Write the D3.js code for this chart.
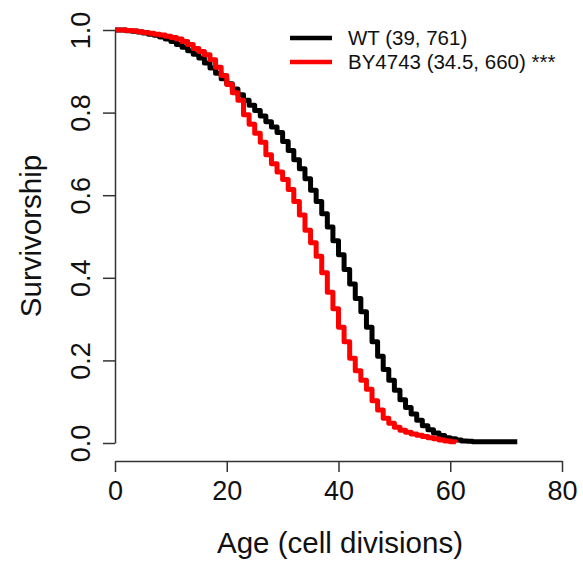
<!DOCTYPE html>
<html>
<head>
<meta charset="utf-8">
<script src="https://cdn.jsdelivr.net/npm/d3@7"></script>
<style>
  html, body { margin: 0; padding: 0; background: #fff; }
  svg { display: block; font-family: "Liberation Sans", Arial, Helvetica, sans-serif; }
</style>
</head>
<body>
<svg id="chart" width="583" height="564"></svg>
<script>
// ---- Data ----
const wtAges = d3.range(0, 73);
const wtSurv = [
  1.000, 1.000, 0.998, 0.997, 0.995, 0.993, 0.990, 0.987, 0.983, 0.978,
  0.972, 0.965, 0.958, 0.950, 0.941, 0.932, 0.920, 0.908, 0.895, 0.882,
  0.870, 0.857, 0.843, 0.830, 0.818, 0.805, 0.792, 0.778, 0.765, 0.752,
  0.730, 0.708, 0.686, 0.664, 0.640, 0.612, 0.585, 0.555, 0.523, 0.490,
  0.456, 0.420, 0.385, 0.350, 0.318, 0.280, 0.245, 0.210, 0.178, 0.152,
  0.128, 0.105, 0.086, 0.070, 0.055, 0.042, 0.032, 0.024, 0.018, 0.013,
  0.010, 0.007, 0.005, 0.004, 0.003, 0.003, 0.003, 0.003, 0.003, 0.003,
  0.003, 0.003, 0.003
];
const byAges = d3.range(0, 62);
const bySurv = [
  1.000, 1.000, 0.999, 0.998, 0.996, 0.994, 0.992, 0.990, 0.988, 0.985,
  0.982, 0.978, 0.972, 0.965, 0.955, 0.948, 0.940, 0.928, 0.910, 0.890,
  0.868, 0.848, 0.830, 0.795, 0.772, 0.750, 0.728, 0.698, 0.676, 0.656,
  0.638, 0.614, 0.585, 0.552, 0.515, 0.485, 0.452, 0.412, 0.365, 0.325,
  0.280, 0.245, 0.205, 0.175, 0.152, 0.130, 0.102, 0.080, 0.060, 0.048,
  0.038, 0.031, 0.026, 0.022, 0.019, 0.016, 0.013, 0.010, 0.007, 0.005,
  0.003, 0.002
];
const xTicks = [0, 20, 40, 60, 80];
const yTicks = [0.0, 0.2, 0.4, 0.6, 0.8, 1.0];
const seriesNames = ["WT (39, 761)", "BY4743 (34.5, 660) ***"];
const seriesColors = ["#000000", "#ff0000"];

// ---- Scales ----
const svg = d3.select("#chart");
const x = d3.scaleLinear().domain([0, 80]).range([115, 562]);
const y = d3.scaleLinear().domain([0, 1]).range([443, 30]);

const textColor = "#111";
const axisColor = "#333";

// ---- Curves ----
const line = d3.line()
  .x(d => x(d[0]))
  .y(d => y(d[1]))
  .curve(d3.curveStepAfter);

const series = [
  { ages: wtAges, surv: wtSurv, color: seriesColors[0] },
  { ages: byAges, surv: bySurv, color: seriesColors[1] }
];

series.forEach(s => {
  const pts = s.ages.map((a, i) => [a, s.surv[i]]);
  svg.append("path")
    .datum(pts)
    .attr("d", line)
    .attr("fill", "none")
    .attr("stroke", s.color)
    .attr("stroke-width", 5)
    .attr("stroke-linejoin", "round")
    .attr("stroke-linecap", "butt");
});

// ---- X axis ----
const xAxis = svg.append("g")
  .attr("transform", "translate(0,461)")
  .call(d3.axisBottom(x).tickValues(xTicks).tickFormat(d3.format("d"))
        .tickSize(11).tickSizeOuter(0).tickPadding(9));
xAxis.selectAll("path, line").attr("stroke", axisColor).attr("stroke-width", 1.5);
xAxis.selectAll("text").attr("fill", textColor)
  .style("font-size", "27px").style("font-family", "'Liberation Sans', Arial, sans-serif");

// ---- Y axis ----
const yAxis = svg.append("g")
  .attr("transform", "translate(115,0)")
  .call(d3.axisLeft(y).tickValues(yTicks).tickFormat(d3.format(".1f"))
        .tickSize(12).tickSizeOuter(0));
yAxis.selectAll("path, line").attr("stroke", axisColor).attr("stroke-width", 1.5);
yAxis.selectAll("text")
  .attr("fill", textColor)
  .attr("x", 0).attr("y", -25).attr("dy", null)
  .attr("transform", "rotate(-90)")
  .attr("text-anchor", "middle")
  .style("font-size", "27px").style("font-family", "'Liberation Sans', Arial, sans-serif");

// ---- Axis titles ----
svg.append("text")
  .attr("x", 340).attr("y", 553)
  .attr("text-anchor", "middle")
  .attr("fill", textColor)
  .style("font-size", "29.5px")
  .text("Age (cell divisions)");

svg.append("text")
  .attr("transform", "translate(41,236) rotate(-90)")
  .attr("text-anchor", "middle")
  .attr("fill", textColor)
  .style("font-size", "29.5px")
  .text("Survivorship");

// ---- Legend ----
const legend = svg.append("g");
seriesNames.forEach((name, i) => {
  const ly = 38 + i * 24;
  legend.append("line")
    .attr("x1", 290).attr("x2", 332)
    .attr("y1", ly).attr("y2", ly)
    .attr("stroke", seriesColors[i]).attr("stroke-width", 4.5);
  legend.append("text")
    .attr("x", 348).attr("y", ly + 7)
    .attr("fill", textColor)
    .style("font-size", "20.5px")
    .text(name);
});
</script>
</body>
</html>
